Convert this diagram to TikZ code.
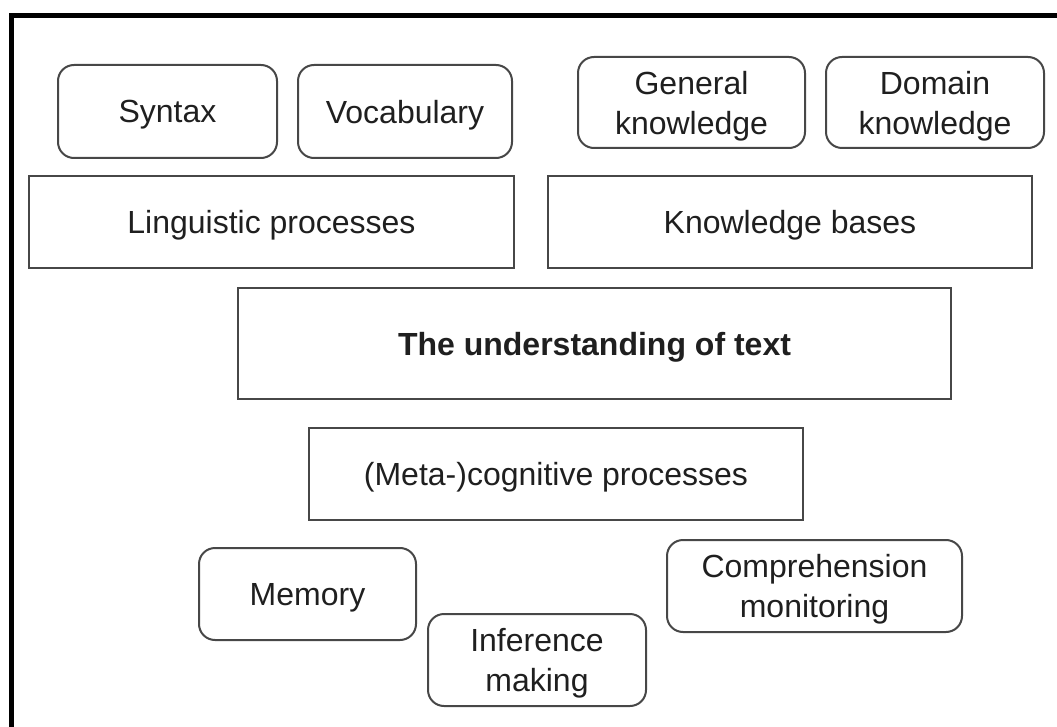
\documentclass[tikz,border=0pt]{standalone}
\usepackage{fontspec}
\setmainfont{Liberation Sans}
\begin{document}
\begin{tikzpicture}[x=1pt,y=-1pt,
  every node/.style={font=\fontsize{32}{40}\selectfont, text=black!88, align=center, inner sep=0pt, text depth=0pt},
  bbox/.style={draw=black!72, line width=2pt, rectangle},
  rbox/.style={bbox, rounded corners=16pt},
  lower/.style={text depth=-#1},
  frameline/.style={line width=5pt, black}]
\useasboundingbox (0,0) rectangle (1057,727);
% frame: top and left edges only
\draw[frameline] (11.5,727) -- (11.5,16) -- (1057,16);

% top row of rounded boxes
\node[rbox, minimum width=219, minimum height=93] (syntax) at (167.5,111.5) {Syntax};
\node[rbox, minimum width=214, minimum height=93] (vocab) at (405,111.5) {Vocabulary};
\node[rbox, minimum width=227, minimum height=91] (general) at (691.5,102.5) {General\\knowledge};
\node[rbox, minimum width=218, minimum height=91] (domain) at (935,102.5) {Domain\\knowledge};

% second row
\node[bbox, lower=4.5pt, minimum width=485, minimum height=92] (ling) at (271.5,222) {Linguistic processes};
\node[bbox, lower=4.5pt, minimum width=484, minimum height=92] (kbase) at (790,222) {Knowledge bases};

% centre
\node[bbox, lower=3.5pt, minimum width=713, minimum height=111, font=\fontsize{32}{40}\selectfont\bfseries] (under) at (594.5,343.5) {The understanding of text};

\node[bbox, lower=3pt, minimum width=494, minimum height=92] (meta) at (556,474) {(Meta-)cognitive processes};

% bottom rounded boxes
\node[rbox, lower=5pt, minimum width=217, minimum height=92] (memory) at (307.5,594) {Memory};
\node[rbox, text depth=1pt, minimum width=218, minimum height=92] (infer) at (537,660) {Inference\\making};
\node[rbox, minimum width=295, minimum height=92] (monitor) at (814.5,586) {Comprehension\\monitoring};
\end{tikzpicture}
\end{document}
